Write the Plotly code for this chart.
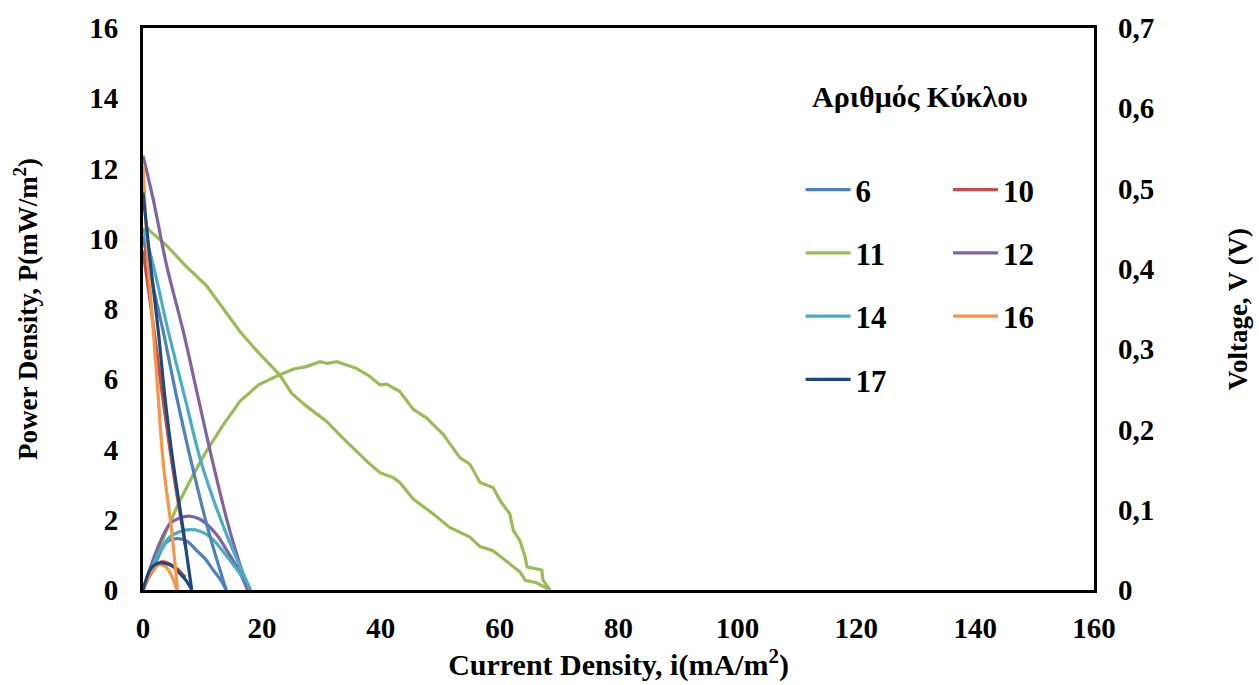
import plotly.graph_objects as go

# ---------------- data ----------------
cycles = ["6", "10", "11", "12", "14", "16", "17"]
colors = {"6": "#4F81BD", "10": "#C0504D", "11": "#9BBB59", "12": "#8064A2",
          "14": "#4BACC6", "16": "#F79646", "17": "#1F497D"}

# Power density curves  (I in mA/m2, P in mW/m2)
p6_i = [0, 1.0, 2.3, 4.0, 5.9, 7.5, 9.0, 10.5, 11.8, 13.0, 14.0]
p6_p = [0, 0.42, 0.85, 1.37, 1.46, 1.38, 1.13, 0.88, 0.57, 0.30, 0]
p10_i = [0, 1.0, 2.0, 3.1, 4.2, 5.7, 6.8, 7.2]
p10_p = [0, 0.37, 0.63, 0.80, 0.77, 0.61, 0.42, 0.37]
p11_i = [0, 2, 4, 6.2, 8.5, 10.7, 13.5, 16.3, 19.5, 23.0, 25.5, 27.5, 29.8, 31.0,
         32.6, 34.0, 35.9, 38.0, 39.9, 41.0, 43.2, 45.5, 47.7, 50.5, 53.3, 55.0,
         56.7, 58.9, 60.1, 61.7, 62.3, 63.4, 64.3, 64.6, 67.1, 67.3, 68.5]
p11_p = [0, 0.87, 1.72, 2.54, 3.3, 3.96, 4.7, 5.37, 5.85, 6.13, 6.3, 6.36, 6.50, 6.45,
         6.50, 6.42, 6.31, 6.1, 5.84, 5.86, 5.65, 5.14, 4.90, 4.43, 3.77, 3.58,
         3.06, 2.92, 2.54, 2.17, 1.70, 1.41, 0.94, 0.66, 0.57, 0.28, 0]
p12_i = [0, 2.3, 4.5, 6.2, 7.9, 9.5, 10.7, 12.5, 14.1, 16.0, 17.6]
p12_p = [0, 1.13, 1.88, 2.05, 2.10, 2.02, 1.88, 1.55, 1.13, 0.60, 0]
p14_i = [0, 2.3, 4.5, 6.2, 7.9, 9.5, 11.3, 13.0, 14.6, 16.4, 18.1]
p14_p = [0, 0.94, 1.51, 1.66, 1.72, 1.68, 1.51, 1.20, 0.85, 0.45, 0]
p16_i = [0, 1.0, 2.0, 2.9, 3.8, 4.6, 5.2, 5.7]
p16_p = [0, 0.40, 0.65, 0.72, 0.66, 0.48, 0.25, 0]
p17_i = [0, 1.18, 2.0, 3.0, 4.0, 5.1, 6.2, 7.2, 8.2]
p17_p = [0, 0.57, 0.72, 0.78, 0.75, 0.66, 0.47, 0.28, 0]

# Voltage curves (I in mA/m2, V in volts)
v6_i = [0, 1.5, 3.4, 5.7, 8.2, 11.0, 14.0]
v6_v = [0.441, 0.385, 0.322, 0.239, 0.157, 0.074, 0.0]
v10_i = [0, 1.0, 2.0, 3.4, 5.0, 7.2]
v10_v = [0.423, 0.37, 0.315, 0.235, 0.152, 0.052]
v11_i = [0.6, 1.2, 4.0, 7.0, 10.7, 13.5, 16.3, 19.5, 23.0, 25.0, 27.5, 30.9, 33.5,
         35.9, 38.0, 39.9, 42.1, 43.2, 45.5, 48.8, 51.6, 55.0, 56.7, 58.9, 60.6,
         62.3, 63.5, 64.3, 66.2, 68.5]
v11_v = [0.452, 0.447, 0.429, 0.405, 0.379, 0.351, 0.322, 0.295, 0.268, 0.245, 0.229,
         0.210, 0.190, 0.173, 0.158, 0.146, 0.140, 0.134, 0.113, 0.095, 0.078, 0.066,
         0.054, 0.049, 0.039, 0.029, 0.022, 0.012, 0.009, 0.0]
v12_i = [0, 1.74, 3.98, 6.78, 9.3, 11.8, 14.6, 17.7]
v12_v = [0.541, 0.486, 0.404, 0.322, 0.239, 0.157, 0.074, 0.0]
v14_i = [0, 1.74, 4.26, 7.07, 9.87, 13.8, 18.1]
v14_v = [0.451, 0.404, 0.322, 0.239, 0.157, 0.074, 0.0]
v16_i = [0, 0.9, 1.74, 2.58, 3.42, 4.82, 5.8]
v16_v = [0.528, 0.404, 0.322, 0.239, 0.157, 0.074, 0.0]
v17_i = [0, 1.29, 2.58, 3.7, 5.1, 6.78, 8.2]
v17_v = [0.495, 0.404, 0.322, 0.239, 0.157, 0.074, 0.0]

power = {"6": (p6_i, p6_p), "10": (p10_i, p10_p), "11": (p11_i, p11_p),
         "12": (p12_i, p12_p), "14": (p14_i, p14_p), "16": (p16_i, p16_p),
         "17": (p17_i, p17_p)}
voltage = {"6": (v6_i, v6_v), "10": (v10_i, v10_v), "11": (v11_i, v11_v),
           "12": (v12_i, v12_v), "14": (v14_i, v14_v), "16": (v16_i, v16_v),
           "17": (v17_i, v17_v)}

x_ticks = [0, 20, 40, 60, 80, 100, 120, 140, 160]
y_ticks = [0, 2, 4, 6, 8, 10, 12, 14, 16]
y2_ticks = [0, 0.1, 0.2, 0.3, 0.4, 0.5, 0.6, 0.7]
y2_labels = ["0", "0,1", "0,2", "0,3", "0,4", "0,5", "0,6", "0,7"]

left_col = ["6", "11", "14", "17"]

# ---------------- figure ----------------
FONT = "Liberation Serif, Times New Roman, serif"
fig = go.Figure()

for c in cycles:
    shape = "linear" if c == "11" else "spline"
    leg = "legend" if c in left_col else "legend2"
    pi, pp = power[c]
    fig.add_trace(go.Scatter(x=pi, y=pp, mode="lines", name=c, legendgroup="g" + c,
                             legend=leg, line=dict(color=colors[c], width=3.2, shape=shape),
                             yaxis="y"))
for c in cycles:
    shape = "linear" if c == "11" else "spline"
    vi, vv = voltage[c]
    fig.add_trace(go.Scatter(x=vi, y=vv, mode="lines", name=c, legendgroup="g" + c,
                             showlegend=False, line=dict(color=colors[c], width=3.2, shape=shape),
                             yaxis="y2"))

tick_font = dict(family=FONT, size=29, color="black", weight="bold")
legend_font = dict(family=FONT, size=31, color="black", weight="bold")

fig.update_layout(
    width=1259, height=685,
    margin=dict(l=143, r=165, t=24, b=95),
    paper_bgcolor="white", plot_bgcolor="white",
    font=dict(family=FONT, color="black"),
    xaxis=dict(range=[0, 160], tickvals=x_ticks, showgrid=False, zeroline=False,
               showline=True, mirror=True, linecolor="black", linewidth=3,
               ticks="", tickfont=tick_font, ticklabelstandoff=10,
               title=dict(text="Current Density, i(mA/m<sup>2</sup>)",
                          font=dict(family=FONT, size=30, color="black", weight="bold"),
                          standoff=8)),
    yaxis=dict(range=[0, 16], tickvals=y_ticks, showgrid=False, zeroline=False,
               showline=True, mirror=True, linecolor="black", linewidth=3,
               ticks="", tickfont=tick_font, ticklabelstandoff=16,
               title=dict(text="Power Density, P(mW/m<sup>2</sup>)",
                          font=dict(family=FONT, size=27, color="black", weight="bold"),
                          standoff=44)),
    yaxis2=dict(range=[0, 0.7], overlaying="y", side="right", tickvals=y2_ticks,
                ticktext=y2_labels, showgrid=False, zeroline=False, showline=False,
                ticks="", tickfont=tick_font, ticklabelstandoff=23,
                title=dict(text="Voltage, V (V)",
                           font=dict(family=FONT, size=27, color="black", weight="bold"),
                           standoff=74)),
    legend=dict(x=0.6915, y=0.76, xanchor="left", yanchor="top", bgcolor="rgba(0,0,0,0)",
                font=legend_font, tracegroupgap=20, itemwidth=45),
    legend2=dict(x=0.8465, y=0.76, xanchor="left", yanchor="top", bgcolor="rgba(0,0,0,0)",
                 font=legend_font, tracegroupgap=20, itemwidth=45),
    annotations=[dict(text="Αριθμός Κύκλου", x=0.817, y=0.879, xref="paper", yref="paper",
                      showarrow=False, xanchor="center", yanchor="middle",
                      font=dict(family=FONT, size=30, color="black", weight="bold"))],
)

fig.write_html("out.html")
